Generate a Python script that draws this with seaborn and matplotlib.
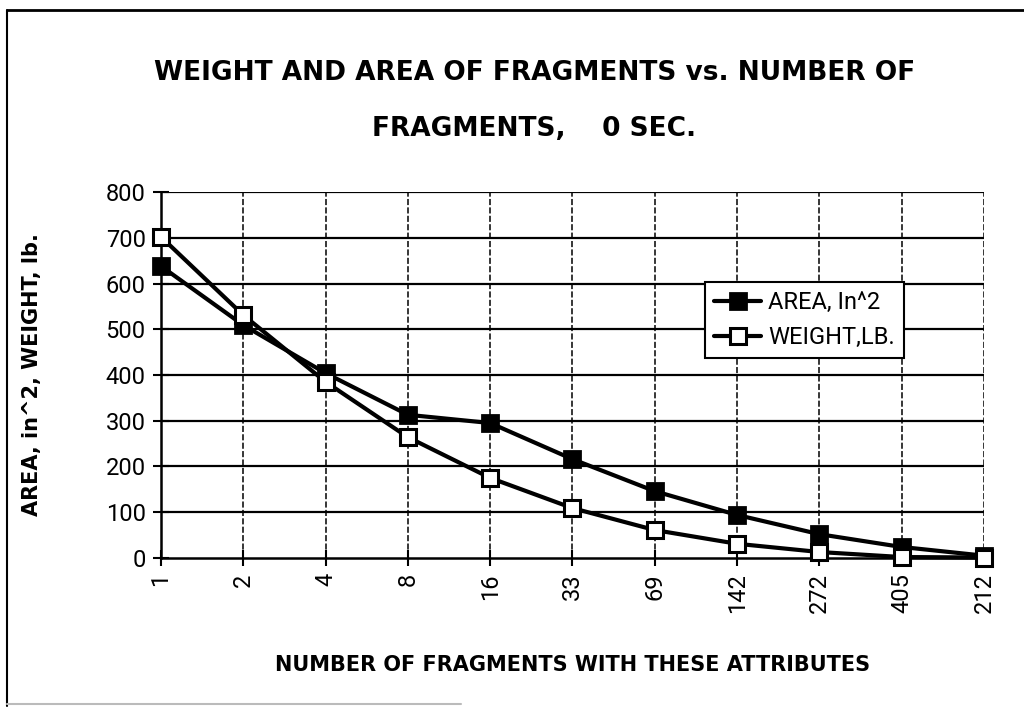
import matplotlib
matplotlib.use("Agg")
import matplotlib.pyplot as plt
import seaborn as sns
import pandas as pd
from matplotlib.lines import Line2D

categories = ["1", "2", "4", "8", "16", "33", "69", "142", "272", "405", "212"]
area_values = [638, 509, 404, 313, 295, 216, 146, 94, 52, 24, 5]
weight_values = [702, 531, 385, 264, 175, 109, 61, 31, 13, 2, 1]
y_ticks = [0, 100, 200, 300, 400, 500, 600, 700, 800]

sns.set_theme(style="white")
plt.rcParams['font.family'] = ['DejaVu Sans']
plt.rcParams['text.color'] = 'black'
plt.rcParams['axes.labelcolor'] = 'black'
plt.rcParams['xtick.color'] = 'black'
plt.rcParams['ytick.color'] = 'black'

fig = plt.figure(figsize=(10.24, 7.07), dpi=100)
ax = fig.add_axes([0.1572, 0.2108, 0.8037, 0.5176])

pos = list(range(len(categories)))
df_area = pd.DataFrame({"pos": pos, "value": area_values})
df_weight = pd.DataFrame({"pos": pos, "value": weight_values})

sns.lineplot(data=df_area, x="pos", y="value", ax=ax, color="black", lw=3,
             marker="s", markersize=11, markerfacecolor="black",
             markeredgecolor="black", markeredgewidth=2, label="AREA, In^2",
             zorder=5, clip_on=False)
sns.lineplot(data=df_weight, x="pos", y="value", ax=ax, color="black", lw=3,
             marker="s", markersize=11, markerfacecolor="white",
             markeredgecolor="black", markeredgewidth=2.2, label="WEIGHT,LB.",
             zorder=6, clip_on=False)

ax.set_xlim(0, len(categories) - 1)
ax.set_ylim(0, 800)
ax.set_yticks(y_ticks)
ax.set_yticklabels([str(v) for v in y_ticks], fontsize=17, family="Roboto")
ax.set_xticks(pos)
ax.set_xticklabels(categories, rotation=90, fontsize=17, family="Roboto")

for v in y_ticks[1:]:
    ax.axhline(v, color="black", lw=1.6, zorder=1)
for p in pos[1:]:
    ax.axvline(p, color="black", lw=1.1, ls=(0, (4, 1.5)), zorder=1)

for s in ["top", "right"]:
    ax.spines[s].set_visible(False)
for s in ["left", "bottom"]:
    ax.spines[s].set_color("black")
    ax.spines[s].set_linewidth(1.8)

ax.tick_params(axis="both", direction="inout", length=12, width=1.5, color="black",
               left=True, bottom=True, pad=5)

ax.set_xlabel("NUMBER OF FRAGMENTS WITH THESE ATTRIBUTES", fontsize=15,
              fontweight="bold", labelpad=30)
ax.set_ylabel("AREA, in^2, WEIGHT, lb.", fontsize=15, fontweight="bold", labelpad=46)

fig.text(0.522, 0.897, "WEIGHT AND AREA OF FRAGMENTS vs. NUMBER OF",
         ha="center", va="center", fontsize=19, fontweight="bold")
fig.text(0.522, 0.818, "FRAGMENTS,    0 SEC.",
         ha="center", va="center", fontsize=19, fontweight="bold")

leg = ax.legend(loc="upper left", bbox_to_anchor=(0.6605, 0.755), fontsize=17,
                frameon=True, fancybox=False, edgecolor="black", framealpha=1,
                handlelength=2.0, borderpad=0.4, labelspacing=0.5, handletextpad=0.3,
                borderaxespad=0)
leg.get_frame().set_linewidth(1.5)
for t in leg.get_texts():
    t.set_family("Roboto")

# outer frame
fig.add_artist(Line2D([0.007, 0.007], [0.002, 0.986], transform=fig.transFigure,
                      color="black", lw=1.5))
fig.add_artist(Line2D([0.007, 1.0], [0.986, 0.986], transform=fig.transFigure,
                      color="black", lw=2))
fig.add_artist(Line2D([0.007, 0.45], [0.004, 0.004], transform=fig.transFigure,
                      color="#bbbbbb", lw=1.5))

fig.savefig("out.png", dpi=100, facecolor="white")
